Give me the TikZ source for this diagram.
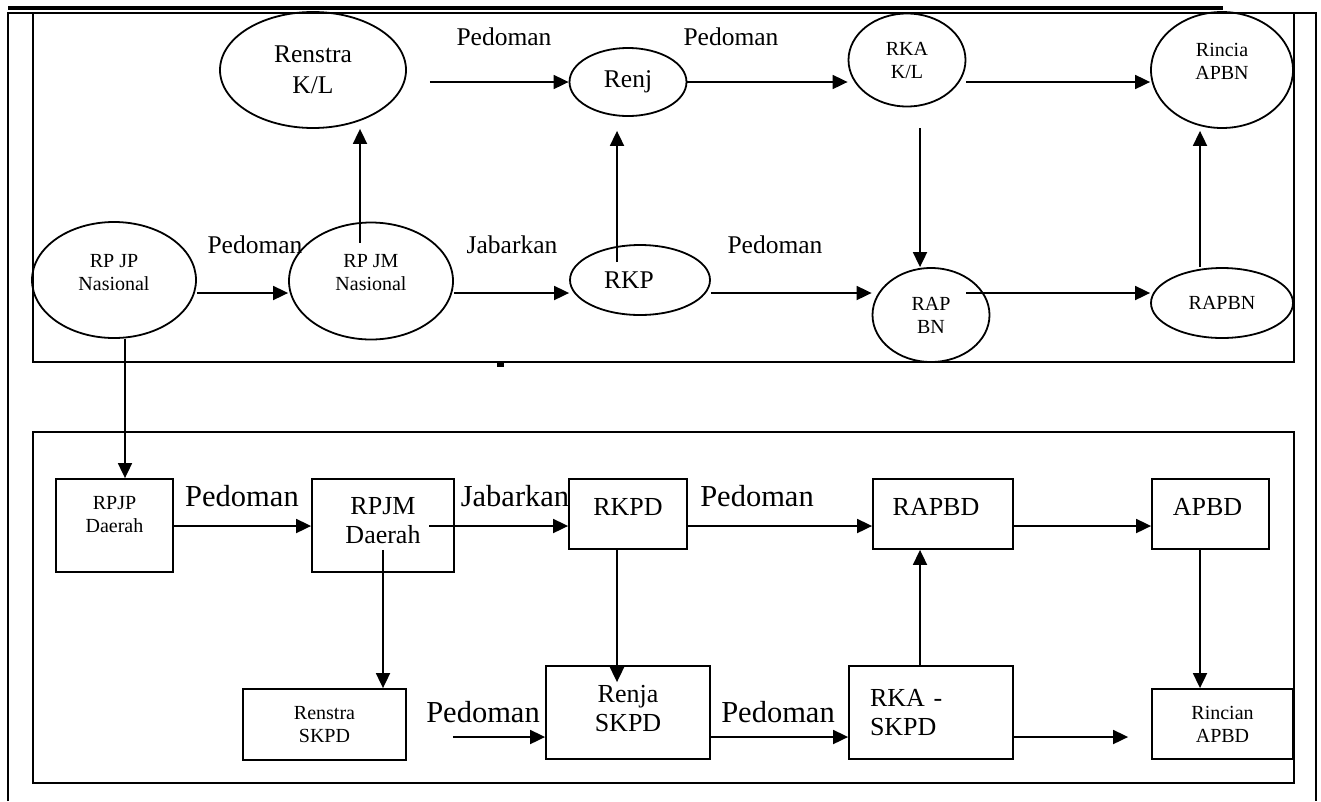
\documentclass[tikz,border=0pt]{standalone}
\usepackage{fontspec}
\setmainfont{Liberation Serif}
\usetikzlibrary{arrows.meta,shapes.geometric}

\begin{document}
\begin{tikzpicture}[x=1pt, y=-1pt,
  oval/.style = {ellipse, draw, line width=1.8pt, inner sep=0pt, align=center},
  kotak/.style = {rectangle, draw, line width=1.8pt, inner sep=0pt, align=center},
  kecil/.style = {font=\fontsize{20}{23}\selectfont},
  sedang/.style = {font=\fontsize{25.5}{31}\selectfont},
  besar/.style = {font=\fontsize{26}{29}\selectfont},
  jumbo/.style = {font=\fontsize{30.5}{32}\selectfont},
  ket/.style = {inner sep=0pt, anchor=base},
  panah/.style = {line width=1.8pt, -{Triangle[length=15pt,width=14pt]}}]
  \useasboundingbox (0,0) rectangle (1321,801);

  % bingkai
  \draw[line width=3.5pt] (8,8) -- (1223,8);
  \draw[line width=1.8pt] (8,801) -- (8,13) -- (1316,13) -- (1316,801);
  \draw[line width=1.8pt] (33,13) rectangle (1294,362);
  \draw[line width=1.8pt] (33,432) rectangle (1294,783);
  \fill (497,361) rectangle (504,367);

  \coordinate (r1) at (0,82);
  \coordinate (r2) at (0,293);
  \coordinate (r3) at (0,526);
  \coordinate (r4) at (0,737);

  % nasional
  \node[oval, sedang, minimum width=186pt, minimum height=116pt] (renstrakl) at (313,70) {Renstra\\K/L};
  \node[oval, sedang, minimum width=117pt, minimum height=68pt, text depth=6pt] (renj) at (628,82) {Renj};
  \node[oval, kecil, minimum width=117pt, minimum height=93pt] (rkakl) at (907,60) {RKA\\K/L};
  \node[oval, kecil, minimum width=142pt, minimum height=116pt, text depth=18pt] (rinciaapbn) at (1222,70) {Rincia\\APBN};
  \node[oval, kecil, minimum width=164pt, minimum height=116pt, text depth=16pt] (rpjpnas) at (114,280) {RP JP\\Nasional};
  \node[oval, kecil, minimum width=164pt, minimum height=117pt, text depth=18pt] (rpjmnas) at (371,281) {RP JM\\Nasional};
  \node[oval, sedang, minimum width=140pt, minimum height=70pt] (rkp) at (640,280) {RKP\hspace*{22pt}};
  \node[oval, kecil, minimum width=117pt, minimum height=94pt] (rapbn) at (931,315) {RAP\\BN};
  \node[oval, kecil, minimum width=142pt, minimum height=70pt] (rapbnb) at (1222,303) {RAPBN};

  \node[ket, sedang] (pd1) at (504,45) {Pedoman};
  \node[ket, sedang] (pd2) at (731,45) {Pedoman};
  \node[ket, sedang] (pd3) at (255,253) {Pedoman};
  \node[ket, sedang] (jb1) at (512,253) {Jabarkan};
  \node[ket, sedang] (pd4) at (775,253) {Pedoman};

  \draw[panah, shorten <=23pt] (renstrakl.east |- r1) -- (renj.west |- r1);
  \draw[panah] (renj.east |- r1) -- (rkakl.west |- r1);
  \draw[panah] (rkakl.east |- r1) -- (rinciaapbn.west |- r1);
  \draw[panah] (rpjpnas.east |- r2) -- (rpjmnas.west |- r2);
  \draw[panah] (rpjmnas.east |- r2) -- (rkp.west |- r2);
  \draw[panah] (rkp.east |- r2) -- (rapbn.west |- r2);
  \draw[panah, shorten <=35pt] (rapbn.center |- r2) -- (rapbnb.west |- r2);
  \draw[panah] ([xshift=-11pt,yshift=-21pt]rpjmnas.north) -- ([xshift=-11pt]rpjmnas.north |- renstrakl.south);
  \draw[panah] ([xshift=-23pt,yshift=-18pt]rkp.north) -- ([xshift=-23pt,yshift=-14pt]rkp.north |- renj.south);
  \draw[panah] ([xshift=13pt,yshift=-21pt]rkakl.south) -- ([xshift=13pt]rkakl.south |- rapbn.north);
  \draw[panah] ([xshift=-22pt]rapbnb.north) -- ([xshift=-22pt,yshift=-2pt]rapbnb.north |- rinciaapbn.south);

  % daerah
  \node[kotak, kecil, minimum width=117pt, minimum height=93pt, text depth=22pt] (rpjpdaerah) at (114.5,525.5) {RPJP\\Daerah};
  \node[kotak, besar, minimum width=142pt, minimum height=93pt, text depth=10pt] (rpjmdaerah) at (383,525.5) {RPJM\\Daerah};
  \node[kotak, besar, minimum width=118pt, minimum height=70pt, text depth=14pt] (rkpd) at (628,514) {RKPD};
  \node[kotak, besar, minimum width=140pt, minimum height=70pt, text depth=14pt] (rapbd) at (943,514) {RAPBD\hspace*{14pt}};
  \node[kotak, besar, minimum width=117pt, minimum height=70pt, text depth=14pt] (apbd) at (1210.5,514) {APBD\hspace*{6pt}};
  \node[kotak, kecil, minimum width=163pt, minimum height=71pt] (renstraskpd) at (324.5,724.5) {Renstra\\SKPD};
  \node[kotak, besar, minimum width=164pt, minimum height=93pt, text depth=8pt] (renjaskpd) at (628,712.5) {Renja\\SKPD};
  \node[kotak, besar, minimum width=164pt, minimum height=93pt, text width=122pt, align=left] (rkaskpd) at (931,712.5) {RKA -\\SKPD};
  \node[kotak, kecil, minimum width=141pt, minimum height=70pt] (rincianapbd) at (1222.5,724) {Rincian\\APBD};

  \node[ket, jumbo] (pd5) at (242,506) {Pedoman};
  \node[ket, jumbo] (jb2) at (515,506) {Jabarkan};
  \node[ket, jumbo] (pd6) at (757,506) {Pedoman};
  \node[ket, jumbo] (pd7) at (483,722) {Pedoman};
  \node[ket, jumbo] (pd8) at (778,722) {Pedoman};

  \draw[panah] ([xshift=11pt]rpjpnas.south) -- ([xshift=11pt]rpjpnas.south |- rpjpdaerah.north);
  \draw[panah] (rpjpdaerah.east |- r3) -- (rpjmdaerah.west |- r3);
  \draw[panah, shorten <=46pt] (rpjmdaerah.center |- r3) -- (rkpd.west |- r3);
  \draw[panah] (rkpd.east |- r3) -- (rapbd.west |- r3);
  \draw[panah] (rapbd.east |- r3) -- (apbd.west |- r3);
  \draw[panah, shorten <=46pt] (renstraskpd.east |- r4) -- (renjaskpd.west |- r4);
  \draw[panah] (renjaskpd.east |- r4) -- (rkaskpd.west |- r4);
  \draw[panah, shorten >=23pt] (rkaskpd.east |- r4) -- (rincianapbd.west |- r4);
  \draw[panah] ([yshift=23pt]rpjmdaerah.south) -- (rpjmdaerah.south |- renstraskpd.north);
  \draw[panah] ([xshift=-11pt]rkpd.south) -- ([xshift=-11pt,yshift=-17pt]rkpd.south |- renjaskpd.north);
  \draw[panah] ([xshift=-11pt]rkaskpd.north) -- ([xshift=-11pt]rkaskpd.north |- rapbd.south);
  \draw[panah] ([xshift=-10.5pt]apbd.south) -- ([xshift=-10.5pt]apbd.south |- rincianapbd.north);
\end{tikzpicture}
\end{document}
